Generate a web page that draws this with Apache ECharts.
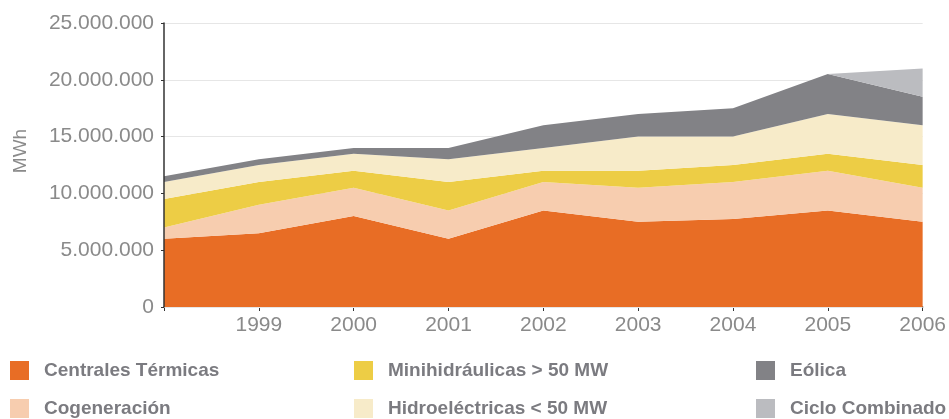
<!DOCTYPE html>
<html>
<head>
<meta charset="utf-8">
<script src="https://cdn.jsdelivr.net/npm/echarts@6.0.0/dist/echarts.min.js"></script>
<style>
  html, body { margin: 0; padding: 0; background: #fff; }
  #chart { width: 949px; height: 419px; }
</style>
</head>
<body>
<div id="chart"></div>
<script>
  // --- Data ---
  const years = ['1998', '1999', '2000', '2001', '2002', '2003', '2004', '2005', '2006'];
  const centralesTermicas = [6000000, 6500000, 8000000, 6000000, 8500000, 7500000, 7750000, 8500000, 7500000];
  const cogeneracion = [1000000, 2500000, 2500000, 2500000, 2500000, 3000000, 3250000, 3500000, 3000000];
  const minihidraulicas = [2500000, 2000000, 1500000, 2500000, 1000000, 1500000, 1500000, 1500000, 2000000];
  const hidroelectricas = [1500000, 1500000, 1500000, 2000000, 2000000, 3000000, 2500000, 3500000, 3500000];
  const eolica = [500000, 500000, 500000, 1000000, 2000000, 2000000, 2500000, 3500000, 2500000];
  const cicloCombinado = [0, 0, 0, 0, 0, 0, 0, 0, 2500000];

  const seriesDefs = [
    { name: 'Centrales Térmicas', data: centralesTermicas, color: '#e86d25' },
    { name: 'Cogeneración', data: cogeneracion, color: '#f7cdaf' },
    { name: 'Minihidráulicas > 50 MW', data: minihidraulicas, color: '#edcd45' },
    { name: 'Hidroeléctricas < 50 MW', data: hidroelectricas, color: '#f7ebc9' },
    { name: 'Eólica', data: eolica, color: '#828286' },
    { name: 'Ciclo Combinado', data: cicloCombinado, color: '#bbbcc0' }
  ];

  const grey = '#8a8a8a';

  function fmt(v) {
    return String(v).replace(/\B(?=(\d{3})+(?!\d))/g, '.');
  }

  // one legend per item, laid out as 3 columns x 2 rows
  const legendCols = [10, 354, 756];
  const legendRows = [361, 399];

  function legendItem(i) {
    return {
      left: legendCols[Math.floor(i / 2)],
      top: legendRows[i % 2],
      padding: 0,
      icon: 'rect',
      itemWidth: 19,
      itemHeight: 19,
      selectedMode: false,
      textStyle: {
        color: '#7b7b80',
        fontSize: 19,
        fontWeight: 'bold',
        padding: [0, 0, 0, 10]
      },
      data: [seriesDefs[i].name]
    };
  }

  const chart = echarts.init(document.getElementById('chart'), null, { renderer: 'canvas' });

  chart.setOption({
    animation: false,
    textStyle: { fontFamily: '"Liberation Sans", Arial, sans-serif' },
    grid: { left: 164, right: 25, top: 23, bottom: 112 },
    legend: seriesDefs.map(function (s, i) { return legendItem(i); }),
    xAxis: {
      type: 'category',
      boundaryGap: false,
      data: years,
      axisLine: { lineStyle: { color: '#333', width: 1.5 } },
      axisTick: { length: 4, lineStyle: { color: '#333' }, alignWithLabel: true },
      axisLabel: {
        color: grey,
        fontSize: 21,
        margin: 8,
        formatter: function (v, i) { return i === 0 ? '' : v; }
      }
    },
    yAxis: {
      type: 'value',
      min: 0,
      max: 25000000,
      interval: 5000000,
      z: 3,
      name: 'MWh',
      nameLocation: 'middle',
      nameGap: 134,
      nameTextStyle: { color: grey, fontSize: 19, padding: [0, 0, 0, 28] },
      axisLine: { show: true, lineStyle: { color: '#333', width: 1.5 } },
      axisTick: { show: true, length: 3, lineStyle: { color: '#333' } },
      axisLabel: { color: grey, fontSize: 21, margin: 10, formatter: fmt },
      splitLine: { lineStyle: { color: '#e6e6e6', width: 1.2 } }
    },
    series: seriesDefs.map(function (s) {
      return {
        name: s.name,
        type: 'line',
        stack: 'total',
        data: s.data,
        symbol: 'none',
        color: s.color,
        lineStyle: { width: 0 },
        areaStyle: { color: s.color, opacity: 1 }
      };
    })
  });
</script>
</body>
</html>
